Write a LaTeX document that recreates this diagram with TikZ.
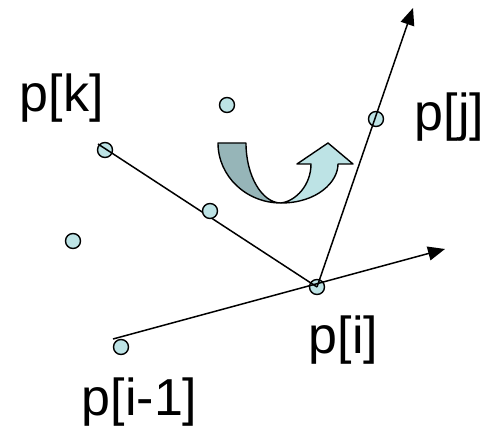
\documentclass[tikz,border=0pt]{standalone}
\usepackage{fontspec}
\setmainfont{Liberation Sans}
\usepackage{tikz}
\usetikzlibrary{calc,positioning,arrows.meta}
\definecolor{ptcyan}{HTML}{BDE3E5}
\definecolor{foldteal}{HTML}{96B5B8}
\tikzset{
  pnode/.style={circle, draw=black, fill=ptcyan, line width=1.4pt,
                minimum size=15pt, inner sep=0pt},
  plabel/.style={anchor=base west, inner sep=0pt, font=\fontsize{52}{56}\selectfont},
  pedge/.style={line width=1.5pt, draw=black},
  parrow/.style={pedge, -{Triangle[length=17pt,width=14pt]}},
  turnpart/.style={draw=black, line width=1.4pt, line join=round}
}

\begin{document}
\begin{tikzpicture}[x=1pt, y=-1pt]
  \useasboundingbox (0,0) rectangle (487,427);
  % points
  \node[pnode] (pk) at (105,150) {};
  \node[pnode] (pi) at (317,287) {};
  \node[pnode] (pj) at (376,119) {};
  \node[pnode] (pim) at (121,347) {};
  \node[pnode] (pa) at (227,105) {};
  \node[pnode] (pb) at (73,241) {};
  \coordinate (ks) at (98,144);
  \coordinate (ms) at (113,339);
  \coordinate (jt) at (413,8);
  \coordinate (it) at (445,249);
  % edges
  \draw[pedge] (ks) -- (pi.center);
  \draw[parrow] (pi.center) -- (jt);
  \draw[parrow] (ms) -- (it);
  \node[pnode] (pc) at (210,211) {};
  % labels
  \node[plabel] (lk) at (19.6,112) {p[k]};
  \node[plabel] (lj) at (414.6,131) {p[j]};
  \node[plabel] (li) at (308.6,354) {p[i]};
  \node[plabel] (lim) at (81.6,415) {p[i-1]};
  % turning arrow
  \draw[turnpart, fill=foldteal] (218,143) -- (246,143)
    .. controls (246,176) and (262,203) .. (281,203)
    .. controls (246,203) and (218,176) .. (218,143) -- cycle;
  \draw[turnpart, fill=ptcyan] (281,203)
    .. controls (317,203) and (338,182) .. (338,164)
    -- (353,164) -- (328,143) -- (297,164) -- (311,164)
    .. controls (311,185) and (296,201) .. (281,203) -- cycle;
\end{tikzpicture}
\end{document}
